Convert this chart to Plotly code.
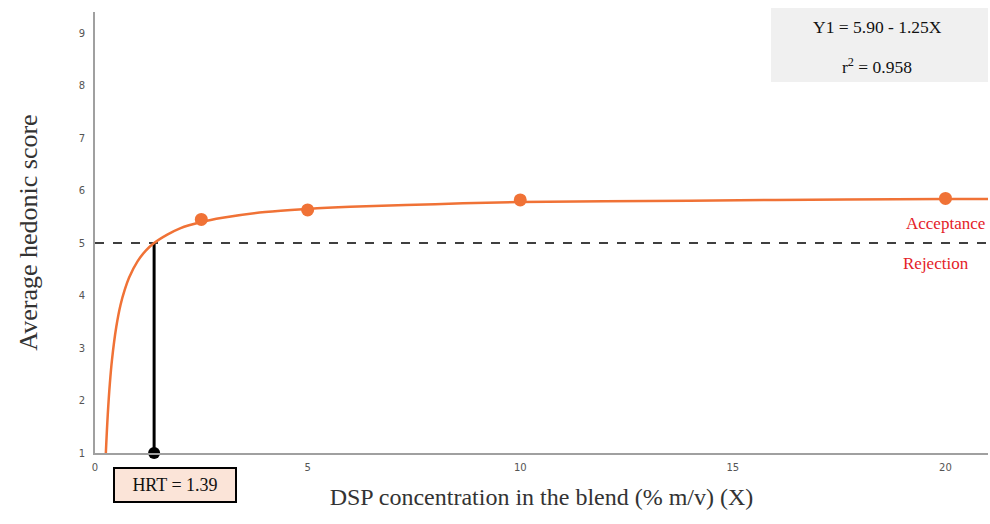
import plotly.graph_objects as go

# Fitted curve, values
curve_x = [0.255, 0.3, 0.35, 0.4, 0.5, 0.6, 0.7, 0.8, 1.0, 1.2, 1.39, 1.7, 2.0, 2.5, 3.0, 4.0, 5.0, 6.0, 8.0, 10.0, 13.0, 16.0, 20.0, 21.0]
curve_y = [1.00, 1.73, 2.33, 2.78, 3.40, 3.82, 4.11, 4.34, 4.65, 4.86, 5.00, 5.16, 5.28, 5.40, 5.48, 5.59, 5.65, 5.69, 5.74, 5.78, 5.80, 5.82, 5.84, 5.84]

# Observed points
obs_x = [2.5, 5, 10, 20]
obs_y = [5.45, 5.63, 5.82, 5.85]

hrt_x = 1.39
threshold = 5
y_min = 1

x_ticks = [0, 5, 10, 15, 20]
y_ticks = [1, 2, 3, 4, 5, 6, 7, 8, 9]

W, H = 990, 524
L, R, T, B = 95, 2, 12, 71
pw, ph = W - L - R, H - T - B

def px(x):
    return (x - L) / pw

def py(y):
    return (H - B - y) / ph

orange = "#F07236"
serif = "Liberation Serif, Times New Roman, serif"

fig = go.Figure()

fig.add_trace(go.Scatter(x=[0, 21], y=[threshold, threshold], mode="lines",
                         line=dict(color="black", width=1.5, dash="dash"),
                         hoverinfo="skip", showlegend=False))
fig.add_trace(go.Scatter(x=[hrt_x, hrt_x], y=[threshold, y_min], mode="lines",
                         line=dict(color="black", width=3),
                         showlegend=False))
fig.add_trace(go.Scatter(x=curve_x, y=curve_y, mode="lines",
                         line=dict(color=orange, width=2.5, shape="spline"),
                         showlegend=False))
fig.add_trace(go.Scatter(x=obs_x, y=obs_y, mode="markers",
                         marker=dict(color=orange, size=13),
                         showlegend=False))
fig.add_trace(go.Scatter(x=[hrt_x], y=[y_min], mode="markers",
                         marker=dict(color="black", size=12),
                         cliponaxis=False, showlegend=False))

fig.add_shape(type="rect", xref="paper", yref="paper",
              x0=px(771), x1=px(988), y0=py(82), y1=py(8),
              fillcolor="#F0F0F0", line=dict(width=0), layer="below")

def note(x, y, text, size, color="#111", xanchor="center", **kw):
    fig.add_annotation(xref="paper", yref="paper", x=px(x), y=py(y),
                       xanchor=xanchor, yanchor="middle", text=text, showarrow=False,
                       font=dict(family=serif, size=size, color=color), **kw)

note(877, 27, "Y1 = 5.90 - 1.25X", 17.5)
note(877, 66, "r<sup>2</sup> = 0.958", 17.5)
note(987, 223, "Acceptance", 17, color="#E42128", xanchor="right")
note(971, 263, "Rejection", 17, color="#E42128", xanchor="right")
note(175, 485, "HRT = 1.39", 18, bgcolor="#FBE4D8", bordercolor="black",
     borderwidth=2, borderpad=6, width=108)

fig.update_xaxes(range=[0, 21], tickvals=x_ticks, showgrid=False, zeroline=False,
                 showline=True, linecolor="#A0A0A0", linewidth=2,
                 ticks="", ticklabelstandoff=4,
                 tickfont=dict(family="DejaVu Sans, sans-serif", size=10, color="#555"),
                 title=dict(text="DSP concentration in the blend (% m/v) (X)",
                            font=dict(family=serif, size=24, color="#333"), standoff=16))
fig.update_yaxes(range=[1, 9.4], tickvals=y_ticks, showgrid=False, zeroline=False,
                 showline=True, linecolor="#A0A0A0", linewidth=2,
                 ticks="", ticklabelstandoff=6,
                 tickfont=dict(family="DejaVu Sans, sans-serif", size=10, color="#555"),
                 title=dict(text="Average hedonic score",
                            font=dict(family=serif, size=26, color="#333"), standoff=34))

fig.update_layout(width=W, height=H, margin=dict(l=L, r=R, t=T, b=B, autoexpand=False),
                  plot_bgcolor="white", paper_bgcolor="white", showlegend=False)

fig.write_html("out.html", config={"displayModeBar": False},
               post_script="document.body.style.margin='0';")
